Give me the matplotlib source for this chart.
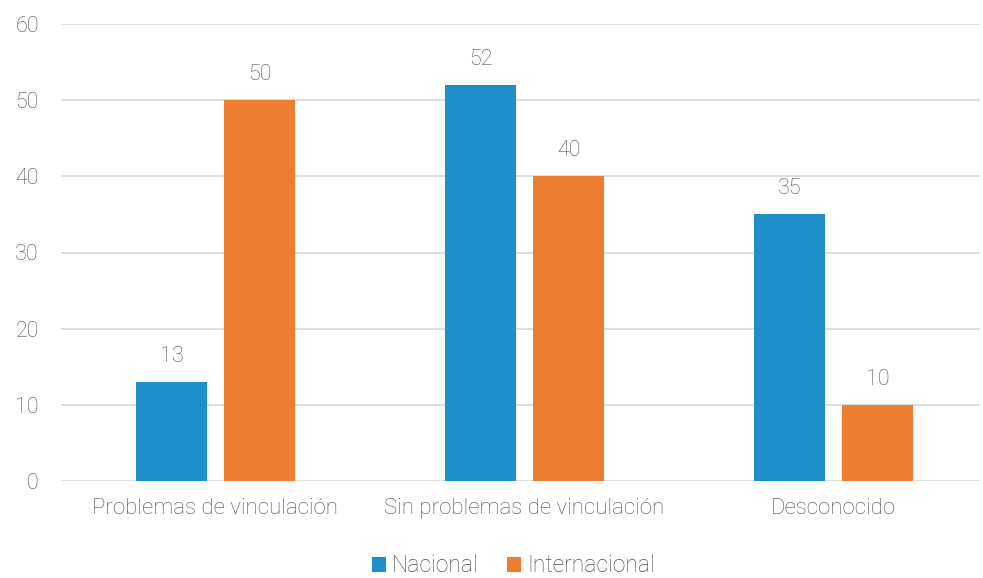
import matplotlib
matplotlib.use("Agg")
import matplotlib.pyplot as plt
import numpy as np

categories = ["Problemas de vinculación", "Sin problemas de vinculación", "Desconocido"]
nacional = [13, 52, 35]
internacional = [50, 40, 10]
series_names = ["Nacional", "Internacional"]
yticks = [0, 10, 20, 30, 40, 50, 60]

plt.rcParams['font.family'] = ['Roboto', 'DejaVu Sans']
FW = "light"
text_color = "#505050"
c_blue = "#1f8fca"
c_orange = "#ed7d31"

fig = plt.figure(figsize=(9.83, 5.78), dpi=100)
L, R = 61 / 983, 980 / 983
ax = fig.add_axes([L, 1 - 481 / 578, R - L, (481 - 24) / 578])

x = np.arange(len(categories))
w = 0.228
off = 0.142
b1 = ax.bar(x - off, nacional, w, color=c_blue, label=series_names[0], zorder=3)
b2 = ax.bar(x + off, internacional, w, color=c_orange, label=series_names[1], zorder=3)

for bars, vals in ((b1, nacional), (b2, internacional)):
    for r, v in zip(bars, vals):
        ax.text(r.get_x() + r.get_width() / 2, v + 2, str(v), ha="center", va="bottom",
                fontsize=15.5, color=text_color, fontweight=FW)

ax.set_xlim(-0.5, 2.5 - 8 / 309)
ax.set_ylim(0, 60)
ax.set_yticks(yticks)
ax.set_xticks(x)
ax.set_xticklabels(categories)
ax.grid(axis="y", color="#d9d9d9", linewidth=1.2, zorder=0)
for s in ax.spines.values():
    s.set_visible(False)
ax.tick_params(axis="y", length=0, labelsize=15.5, labelcolor=text_color, pad=16)
ax.tick_params(axis="x", length=0, labelsize=16, labelcolor=text_color, pad=12)
for lbl in ax.get_xticklabels() + ax.get_yticklabels():
    lbl.set_fontweight(FW)

leg = fig.legend(handles=[b1, b2], labels=series_names, loc="center",
                 bbox_to_anchor=(0.522, 1 - 566 / 578), ncol=2, frameon=False,
                 fontsize=16.5, handlelength=0.62, handleheight=0.62, handletextpad=0.25,
                 columnspacing=1.25, borderpad=0)
for t in leg.get_texts():
    t.set_color(text_color)
    t.set_fontweight(FW)

fig.savefig("out.png", dpi=100)
